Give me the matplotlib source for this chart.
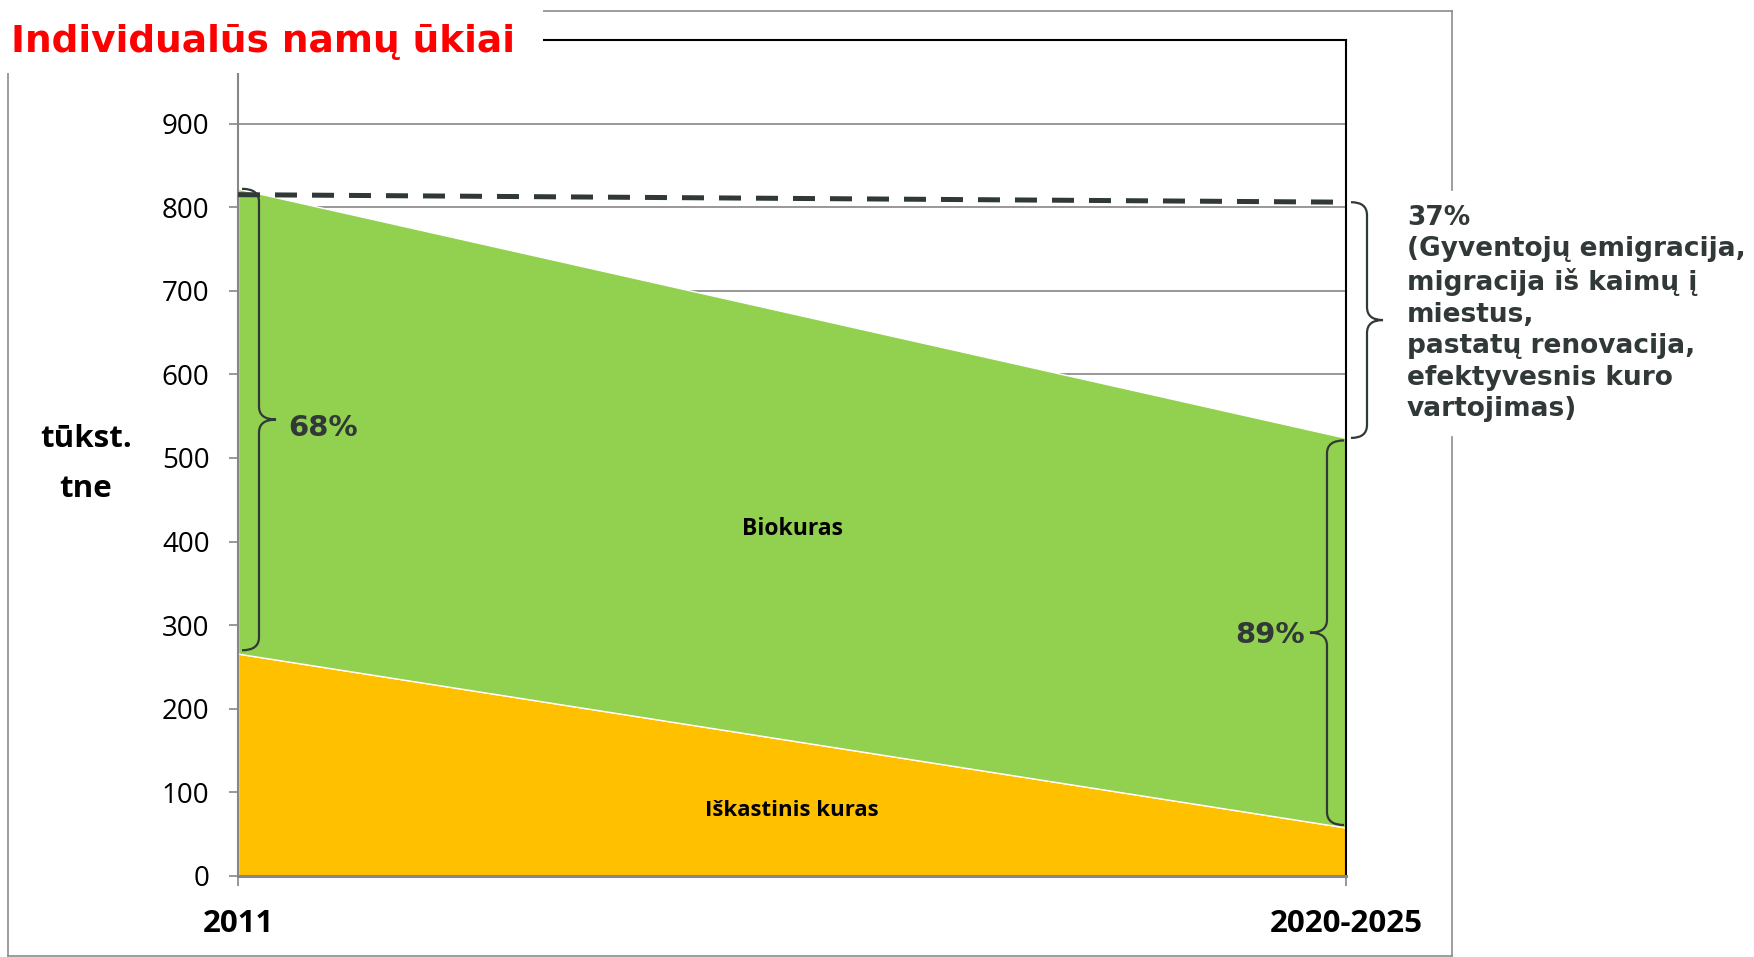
import matplotlib
matplotlib.use("Agg")
import matplotlib.pyplot as plt
from matplotlib.path import Path
from matplotlib.patches import PathPatch, Rectangle
from matplotlib.lines import Line2D
from matplotlib.transforms import IdentityTransform

# duomenys (tūkst. tne)
periods = ['2011', '2020-2025']
fossil = [266, 58]       # Iškastinis kuras
bio = [556, 466]         # Biokuras
trend = [815, 806]       # punktyrinė linija
yticks = [0, 100, 200, 300, 400, 500, 600, 700, 800, 900]
series_names = ['Iškastinis kuras', 'Biokuras']
share_start = '68%'
share_end = '89%'
reduction_text = ('37%\n(Gyventojų emigracija,\nmigracija iš kaimų į\nmiestus,\n'
                  'pastatų renovacija,\nefektyvesnis kuro\nvartojimas)')

W, H = 1754, 957
dark = '#313838'
gray = '#868686'
calibri = ['Open Sans', 'DejaVu Sans']
verdana = ['DejaVu Sans']

fig = plt.figure(figsize=(W / 100, H / 100), dpi=100)
ax = fig.add_axes([238 / W, 1 - 876 / H, (1346 - 238) / W, (876 - 40) / H])

x = [0, 1]
total = [f + b for f, b in zip(fossil, bio)]
ax.stackplot(x, fossil, bio, colors=['#FFC000', '#92D050'],
             edgecolor='white', linewidth=1.0)
ax.plot(x, trend, color=dark, lw=3.6, dashes=(4.4, 3.0), zorder=5,
        solid_capstyle='butt')

ax.set_xlim(0, 1)
ax.set_ylim(0, 1000)
ax.set_yticks(yticks)
ax.set_xticks(x)
ax.set_xticklabels(periods, fontfamily=calibri, fontweight='bold', fontsize=22.5)
for lab in ax.get_yticklabels():
    lab.set_fontfamily(calibri)
ax.tick_params(axis='y', length=6.5, width=1.2, color=gray, pad=14, labelsize=20)
ax.tick_params(axis='x', length=7.5, width=1.2, color=gray, pad=16)
ax.yaxis.grid(True, color=gray, lw=1.2)
ax.set_axisbelow(True)
ax.spines['left'].set_color(gray)
ax.spines['left'].set_linewidth(1.5)
ax.spines['bottom'].set_color(gray)
ax.spines['bottom'].set_linewidth(2.2)
ax.spines['top'].set_color('black')
ax.spines['top'].set_linewidth(1.5)
ax.spines['right'].set_color('black')
ax.spines['right'].set_linewidth(1.5)

# serijų pavadinimai
ax.text(0.5, 415, series_names[1], ha='center', va='center',
        fontfamily=calibri, fontweight='bold', fontsize=16.5)
ax.text(0.5, 78, series_names[0], ha='center', va='center',
        fontfamily=calibri, fontweight='bold', fontsize=16)


def brace(xp, y_lo, y_hi, w, r=13):
    # xp - vertikalios linijos x (px), y - duomenų reikšmės
    lo = ax.transData.transform((0, y_lo))[1]
    hi = ax.transData.transform((0, y_hi))[1]
    ym = (lo + hi) / 2
    verts = [(xp - w, hi), (xp, hi), (xp, hi - r), (xp, ym + r), (xp, ym),
             (xp + w, ym), (xp, ym), (xp, ym - r), (xp, lo + r), (xp, lo),
             (xp - w, lo)]
    codes = [Path.MOVETO, Path.CURVE3, Path.CURVE3, Path.LINETO, Path.CURVE3,
             Path.CURVE3, Path.CURVE3, Path.CURVE3, Path.LINETO, Path.CURVE3,
             Path.CURVE3]
    fig.add_artist(PathPatch(Path(verts, codes), transform=IdentityTransform(),
                             fill=False, edgecolor=dark, lw=1.6, zorder=6))
    return ym


def px(xp, yp):
    return xp / W, 1 - yp / H


ym = brace(259, fossil[0] + 4, total[0], 17)
fig.text(288 / W, (ym - 8) / H, share_start, ha='left', va='center', color=dark,
         fontfamily=verdana, fontweight='bold', fontsize=21)
ym = brace(1327, fossil[1] + 3, total[1] - 3, -17)
fig.text(1305 / W, (ym - 2) / H, share_end, ha='right', va='center', color=dark,
         fontfamily=verdana, fontweight='bold', fontsize=21)
brace(1367, total[1], trend[1], 16)

# pastaba dešinėje
fig.text(*px(1407, 205), reduction_text, ha='left', va='top', color=dark,
         fontfamily=verdana, fontweight='bold', fontsize=19, linespacing=1.27)

# y ašies pavadinimas
fig.text(*px(86, 447), 'tūkst.', ha='center', va='baseline',
         fontfamily=calibri, fontweight='bold', fontsize=22.5)
fig.text(*px(86, 497), 'tne', ha='center', va='baseline',
         fontfamily=calibri, fontweight='bold', fontsize=22.5)

# diagramos rėmelis
bc = '#8C8C8C'
for (x0, y0), (x1, y1) in [((8, 73), (8, 956)), ((543, 11), (1452, 11)),
                           ((1452, 11), (1452, 190)), ((1452, 437), (1452, 956)),
                           ((8, 956), (1452, 956))]:
    fig.add_artist(Line2D([x0 / W, x1 / W], [1 - y0 / H, 1 - y1 / H],
                          transform=fig.transFigure, color=bc, lw=1.2))

# pavadinimo fonas ir pavadinimas
fig.add_artist(Rectangle(px(0, 73), 543 / W, 73 / H, transform=fig.transFigure,
                         facecolor='white', edgecolor='none', zorder=10))
fig.text(*px(11, 42), 'Individualūs namų ūkiai', ha='left', va='center',
         color='#FF0000', fontfamily=verdana, fontweight='bold', fontsize=27,
         zorder=11)

fig.savefig('out.png', dpi=100)
